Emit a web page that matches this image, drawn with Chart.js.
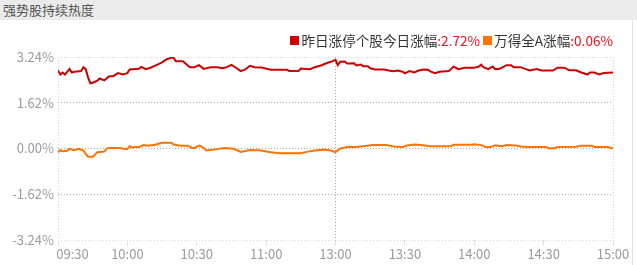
<!DOCTYPE html>
<html>
<head>
<meta charset="utf-8">
<script src="https://cdn.jsdelivr.net/npm/chart.js@4.4.1/dist/chart.umd.min.js"></script>
<style>
    body { margin: 0; background: #fff; font-family: "Noto Sans CJK SC", "Noto Sans", sans-serif; }
    .wrap { position: relative; width: 637px; height: 265px; overflow: hidden; }
    .title-bar { position: absolute; left: 0; top: 0; width: 637px; height: 20px; background: #ebebeb;
        color: #555; font-size: 13px; line-height: 20px; padding-left: 3px; box-sizing: border-box; }
    .edge { position: absolute; left: 632px; top: 20px; width: 1px; height: 245px; background: #e2e2e2; }
    .legend { position: absolute; right: 24px; top: 30px; display: flex; align-items: center;
        font-size: 13.6px; color: #333; white-space: nowrap; }
    .legend .sq { width: 9px; height: 9px; margin-right: 2px; display: inline-block; }
    .legend .val { color: #e4141e; margin-right: 3px; }
    .legend .val:last-child { margin-right: 0; }
    canvas { position: absolute; left: 0; top: 0; }
</style>
</head>
<body>
<div class="wrap">
    <canvas id="heatChart" width="637" height="265"></canvas>
    <div class="title-bar">强势股持续热度</div>
    <div class="edge"></div>
    <div class="legend" id="legendBox"></div>
</div>
<script>
// series names / latest values
const seriesNames = ["昨日涨停个股今日涨幅", "万得全A涨幅"];
const seriesLatest = ["2.72%", "0.06%"];
const seriesColors = ["#cc0000", "#ff7300"];

// minutes after 09:30 (trading minutes, lunch break removed)
const strongTimes = [0, 1, 2, 3, 5, 6, 8, 10, 11, 12, 13, 14, 15, 17, 18, 20, 22, 24, 26, 28, 30, 31, 35, 36, 38, 40, 43, 45, 47, 49, 50, 51, 54, 56, 57, 59, 61, 63, 66, 69, 71, 73, 75, 77, 79, 81, 83, 85, 88, 92, 99, 100, 104, 105, 109, 111, 114, 116, 118, 120, 121, 122, 124, 125, 128, 129, 131, 132, 134, 135, 137, 141, 143, 145, 147, 149, 150, 152, 154, 156, 158, 160, 161, 163, 165, 169, 171, 172, 173, 176, 180, 182, 183, 184, 186, 188, 189, 191, 194, 196, 197, 200, 202, 204, 207, 209, 214, 216, 219, 221, 224, 226, 229, 230, 232, 234, 236, 240];
const strongVals = [2.76, 2.62, 2.69, 2.62, 2.82, 2.69, 2.73, 2.74, 2.88, 2.81, 2.52, 2.31, 2.33, 2.40, 2.48, 2.41, 2.55, 2.57, 2.67, 2.62, 2.67, 2.80, 2.82, 2.89, 2.81, 2.86, 2.97, 3.05, 3.16, 3.21, 3.21, 3.09, 3.09, 2.95, 2.88, 2.88, 2.95, 2.82, 2.88, 2.88, 2.84, 2.88, 2.96, 2.86, 2.74, 2.80, 2.93, 2.88, 2.87, 2.79, 2.79, 2.74, 2.74, 2.83, 2.81, 2.88, 2.95, 3.02, 3.07, 3.14, 2.95, 3.07, 3.08, 3.01, 3.02, 2.94, 2.97, 2.91, 2.91, 2.84, 2.80, 2.80, 2.76, 2.74, 2.76, 2.72, 2.66, 2.74, 2.69, 2.76, 2.80, 2.79, 2.73, 2.67, 2.72, 2.74, 2.90, 2.86, 2.81, 2.86, 2.86, 2.90, 2.97, 2.88, 2.81, 2.90, 2.81, 2.82, 2.95, 2.95, 2.88, 2.88, 2.82, 2.76, 2.81, 2.76, 2.76, 2.86, 2.86, 2.77, 2.77, 2.70, 2.62, 2.69, 2.69, 2.62, 2.67, 2.69];

const windTimes = [0, 1, 2, 4, 5, 7, 9, 11, 12, 13, 15, 16, 17, 20, 21, 22, 27, 28, 30, 31, 32, 33, 35, 37, 39, 42, 45, 49, 50, 53, 56, 58, 59, 61, 62, 63, 64, 67, 72, 76, 79, 83, 87, 92, 96, 105, 108, 111, 115, 118, 120, 122, 125, 129, 132, 136, 142, 145, 149, 151, 154, 157, 161, 170, 171, 179, 180, 183, 185, 187, 189, 192, 194, 198, 200, 203, 211, 212, 215, 216, 224, 226, 231, 232, 238, 239, 240];
const windVals = [-0.13, -0.06, -0.10, -0.08, -0.01, -0.06, -0.01, -0.07, -0.19, -0.29, -0.29, -0.22, -0.13, -0.11, -0.01, 0.02, 0.02, -0.01, -0.02, 0.08, 0.04, 0.05, 0.05, 0.12, 0.10, 0.13, 0.20, 0.20, 0.14, 0.10, 0.10, 0.02, 0.02, 0.10, 0.07, 0.02, -0.07, -0.04, 0.02, -0.01, -0.12, -0.05, -0.06, -0.13, -0.17, -0.17, -0.11, -0.07, -0.04, -0.07, -0.13, -0.01, 0.05, 0.05, 0.08, 0.12, 0.12, 0.07, 0.05, 0.11, 0.14, 0.12, 0.08, 0.08, 0.13, 0.13, 0.15, 0.12, 0.05, 0.05, 0.11, 0.08, 0.12, 0.11, 0.07, 0.05, 0.05, 0.01, 0.01, 0.05, 0.06, 0.10, 0.10, 0.05, 0.05, 0.01, 0.01];

// axis ticks
const xTickMinutes = [0, 30, 60, 90, 120, 150, 180, 210, 240];
const xTickLabels = ["09:30", "10:00", "10:30", "11:00", "13:00", "13:30", "14:00", "14:30", "15:00"];
const yTicks = [-3.24, -1.62, 0, 1.62, 3.24];

// LEGEND
const legendBox = document.getElementById("legendBox");
seriesNames.forEach((name, i) => {
    legendBox.innerHTML += `<span class="sq" style="background:${seriesColors[i]}"></span>` +
        `<span>${name}</span><span class="val">:${seriesLatest[i]}</span>`;
});

function toPoints(times, vals) {
    return times.map((t, i) => ({ x: t, y: vals[i] }));
}

const lightGrid = "#d8d8d8";
const darkGrid = "#a8a8a8";

new Chart(document.getElementById("heatChart"), {
    type: "line",
    data: {
        datasets: [
            { data: toPoints(strongTimes, strongVals), borderColor: seriesColors[0], borderWidth: 2, pointRadius: 0, tension: 0 },
            { data: toPoints(windTimes, windVals), borderColor: seriesColors[1], borderWidth: 2, pointRadius: 0, tension: 0 }
        ]
    },
    options: {
        responsive: false,
        animation: false,
        layout: { padding: { top: 57, right: 24, left: 0, bottom: 0 } },
        plugins: { legend: { display: false }, tooltip: { enabled: false } },
        scales: {
            x: {
                type: "linear",
                min: 0,
                max: 240,
                afterBuildTicks: scale => { scale.ticks = xTickMinutes.map(v => ({ value: v })); },
                afterFit: scale => { scale.height = 25; },
                ticks: {
                    color: "#9a9aa2",
                    font: { family: "Noto Sans CJK SC", size: 13 },
                    padding: 1,
                    maxRotation: 0,
                    autoSkip: false,
                    callback: (v, i) => i === 0 ? "          " + xTickLabels[i] : xTickLabels[i]
                },
                grid: {
                    drawTicks: true,
                    tickLength: 5,
                    tickColor: "#c8c8c8",
                    tickBorderDash: [1, 1],
                    color: ctx => {
                        const v = ctx.tick ? ctx.tick.value : null;
                        if (v === 0 || v === 240) return lightGrid;
                        if (v === 120) return darkGrid;
                        return "rgba(0,0,0,0)";
                    },
                    lineWidth: 1
                },
                border: { display: false, dash: [1, 2] }
            },
            y: {
                min: -3.24,
                max: 3.24,
                afterBuildTicks: scale => { scale.ticks = yTicks.map(v => ({ value: v })); },
                afterFit: scale => { scale.width = 58; },
                ticks: {
                    color: "#9a9aa2",
                    font: { family: "Noto Sans CJK SC", size: 13 },
                    padding: 4,
                    callback: v => v.toFixed(2) + "%"
                },
                grid: {
                    drawTicks: false,
                    color: ctx => {
                        const v = ctx.tick ? ctx.tick.value : null;
                        return (v === 3.24 || v === -3.24) ? lightGrid : darkGrid;
                    },
                    lineWidth: 1
                },
                border: { display: false, dash: [1, 2] }
            }
        }
    }
});
</script>
</body>
</html>
